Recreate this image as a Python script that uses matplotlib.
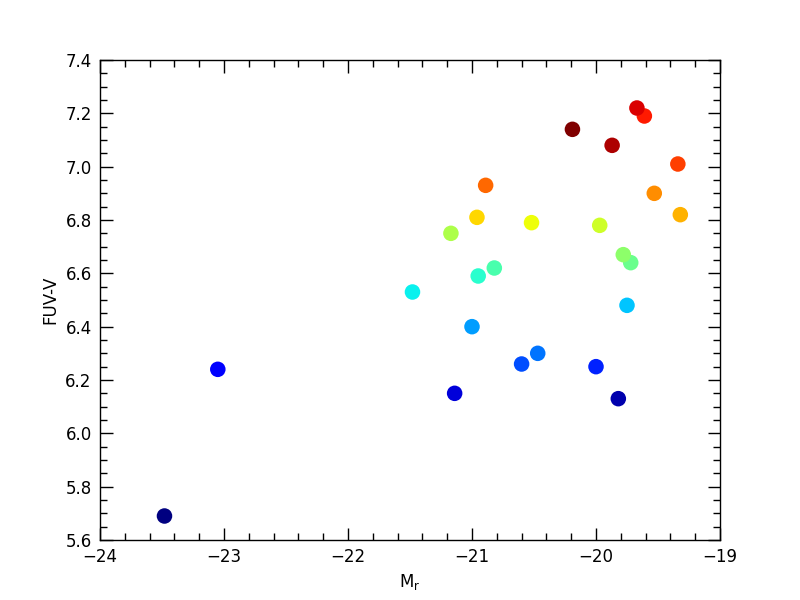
import numpy as np
import matplotlib.pyplot as plt
from matplotlib.ticker import MultipleLocator

# absolute r-band magnitude and FUV-V colour of each galaxy
m_r = [-23.48, -19.82, -21.14, -23.05, -20.00, -20.60, -20.47, -21.00, -19.75,
       -21.48, -20.95, -20.82, -19.72, -19.78, -21.17, -19.97, -20.52, -20.96,
       -19.32, -19.53, -20.89, -19.34, -19.61, -19.67, -19.87, -20.19]
fuv_v = [5.69, 6.13, 6.15, 6.24, 6.25, 6.26, 6.30, 6.40, 6.48,
         6.53, 6.59, 6.62, 6.64, 6.67, 6.75, 6.78, 6.79, 6.81,
         6.82, 6.90, 6.93, 7.01, 7.19, 7.22, 7.08, 7.14]
# colour rank used for the jet colormap
rank = list(range(len(m_r)))

fig = plt.figure(figsize=(8, 6), dpi=100)
fig.subplots_adjust(left=0.125, right=0.9, bottom=0.1, top=0.9)
ax = fig.add_subplot(111)

ax.scatter(m_r, fuv_v, c=rank, cmap='jet', s=125, linewidths=0)

ax.set_xlim(-24, -19)
ax.set_ylim(5.6, 7.4)
ax.xaxis.set_major_locator(MultipleLocator(1))
ax.xaxis.set_minor_locator(MultipleLocator(0.2))
ax.yaxis.set_major_locator(MultipleLocator(0.2))
ax.yaxis.set_minor_locator(MultipleLocator(0.05))
ax.yaxis.set_major_formatter(plt.FormatStrFormatter('%.1f'))

ax.tick_params(which='both', direction='in', top=True, right=True, labelsize=12, width=1)
ax.tick_params(which='major', length=9, pad=6)
ax.tick_params(which='minor', length=5)
for sp in ax.spines.values():
    sp.set_linewidth(1)

ax.set_xlabel('M$_\\mathrm{r}$', fontsize=12)
ax.set_ylabel('FUV-V', fontsize=12)

plt.savefig('out.png', dpi=100)
